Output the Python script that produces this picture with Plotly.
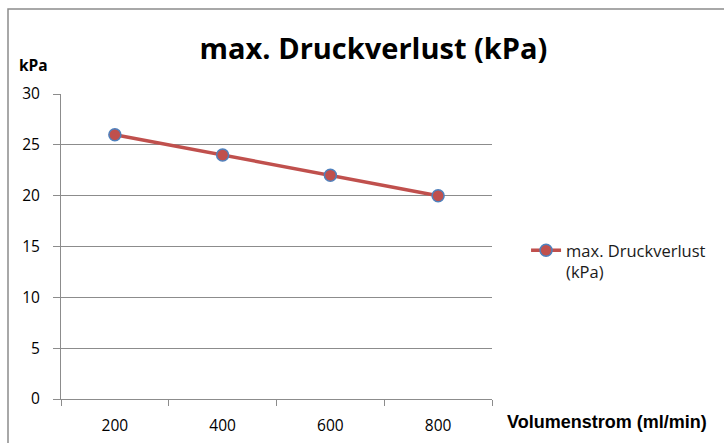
import plotly.graph_objects as go

categories = [200, 400, 600, 800]
values = [26, 24, 22, 20]
series_name = "max. Druckverlust<br>(kPa)"
y_ticks = [0, 5, 10, 15, 20, 25, 30]

FONT = "Open Sans"
GRID = "#8c8c8c"

fig = go.Figure()
fig.add_trace(go.Scatter(
    x=categories, y=values, mode="lines+markers", name=series_name,
    line=dict(color="#C0504D", width=3.5),
    marker=dict(color="#C0504D", size=12, line=dict(color="#4F81BD", width=1.5)),
))

fig.update_layout(
    width=724, height=443,
    margin=dict(l=61, r=232, t=94, b=44, autoexpand=False),
    paper_bgcolor="white", plot_bgcolor="white",
    showlegend=True,
    title=dict(text="<b>max. Druckverlust (kPa)</b>", x=(197+550)/2/724, xanchor="center",
               y=1-49/443, yanchor="middle",
               font=dict(family=FONT, size=29, color="black")),
    legend=dict(x=1.079, y=(399-261)/305, xanchor="left", yanchor="middle", valign="top",
                font=dict(family=FONT, size=16.5, color="#1a1a1a"),
                bgcolor="rgba(0,0,0,0)", tracegroupgap=0),
    xaxis=dict(range=[100, 900], tickvals=categories, ticktext=[str(c) for c in categories],
               ticks="", showgrid=False, showline=True, linecolor=GRID, linewidth=1,
               zeroline=False, ticklabelstandoff=12, automargin=False,
               tickfont=dict(family=FONT, size=15.5, color="black"),
               minor=dict(tickvals=[100, 300, 500, 700, 900], ticks="outside",
                          ticklen=6, tickcolor=GRID, showgrid=False)),
    yaxis=dict(range=[0, 30], tickvals=y_ticks, ticks="outside", ticklen=7, tickcolor=GRID,
               showgrid=True, gridcolor=GRID, gridwidth=1, showline=True, linecolor=GRID,
               zeroline=False, ticklabelstandoff=10, automargin=False,
               tickfont=dict(family=FONT, size=15.5, color="black")),
)

fig.add_annotation(text="<b>kPa</b>", xref="paper", yref="paper",
                   x=(17-61)/431, y=(399-65)/305, xanchor="left", yanchor="middle",
                   showarrow=False, font=dict(family=FONT, size=15.5, color="black"))
fig.add_annotation(text="<b>Volumenstrom (ml/min)</b>", xref="paper", yref="paper",
                   x=(505-61)/431, y=(399-422)/305, xanchor="left", yanchor="middle",
                   showarrow=False, font=dict(family="Liberation Sans Narrow, Liberation Sans", size=18, color="black"))
fig.add_shape(type="rect", xref="paper", yref="paper",
              x0=(8-61)/431, x1=(740-61)/431, y0=(399-460)/305, y1=(399-9)/305,
              line=dict(color="#8c8c8c", width=1.5), fillcolor="rgba(0,0,0,0)")

fig.write_html("out.html", config={"displayModeBar": False},
               post_script="document.body.style.margin='0';")
